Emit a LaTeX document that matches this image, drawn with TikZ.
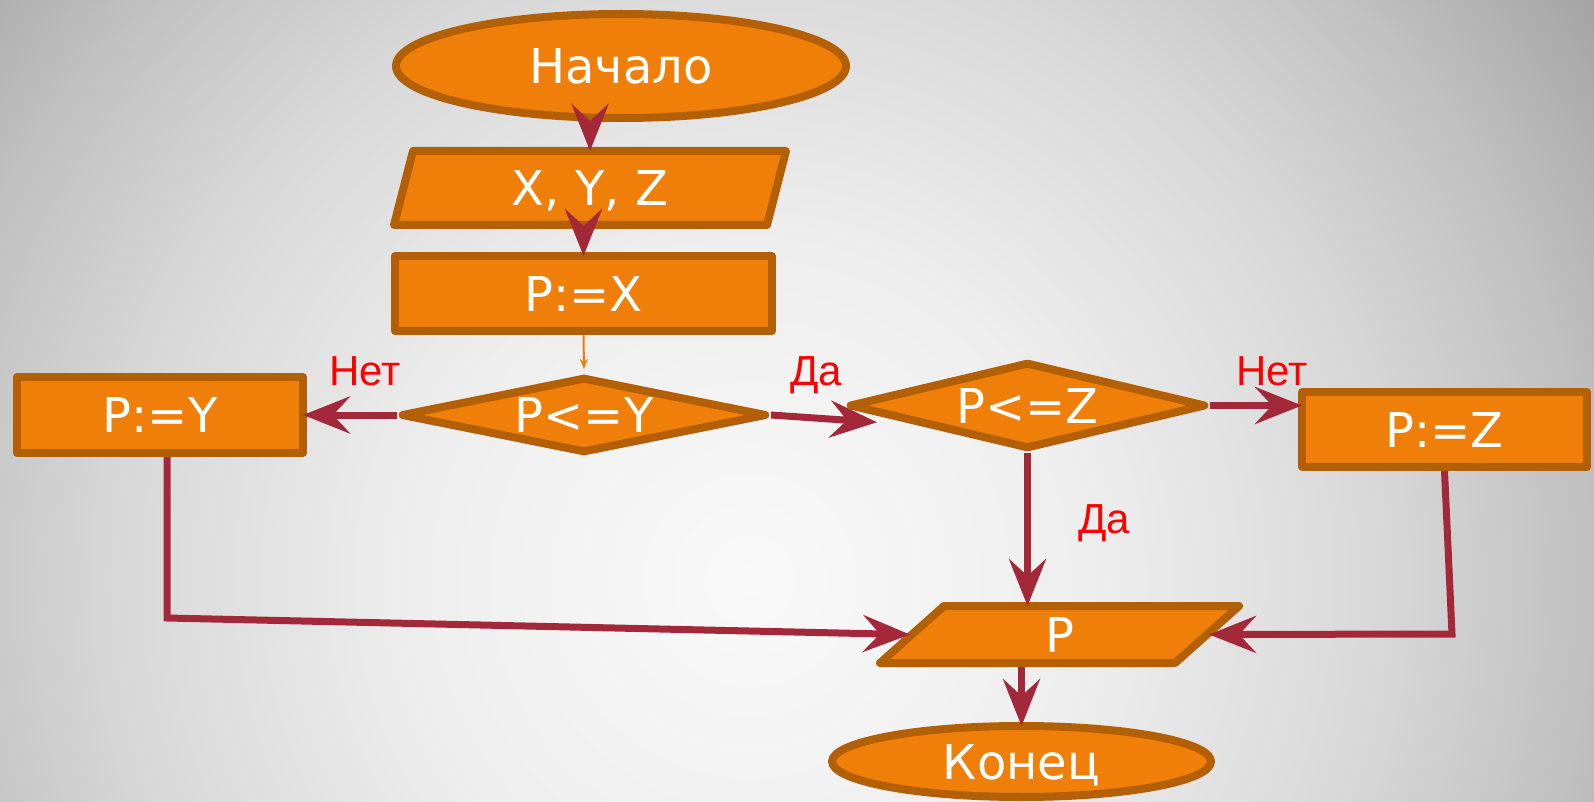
\documentclass[tikz,border=0pt]{standalone}
\usepackage{fontspec}
\setmainfont{DejaVu Sans}
\newfontfamily\lblfont{Liberation Sans}
\usetikzlibrary{shapes.geometric,arrows.meta,calc}
\definecolor{fillor}{RGB}{240,127,9}
\definecolor{strk}{RGB}{178,95,6}
\definecolor{arr}{RGB}{162,40,58}
\definecolor{lblred}{RGB}{255,0,0}
\definecolor{bga}{RGB}{249,249,249}
\definecolor{bgb}{RGB}{238,238,238}
\definecolor{bgc}{RGB}{216,216,216}
\definecolor{bgd}{RGB}{192,192,192}
\definecolor{bge}{RGB}{160,160,160}
\pgfdeclareradialshading{bgshade}{\pgfpoint{0bp}{0bp}}{color(0bp)=(bga); color(8bp)=(bgb); color(15bp)=(bgc); color(20bp)=(bgd); color(25bp)=(bge); color(50bp)=(bge)}
\begin{document}
\begin{tikzpicture}[x=1pt,y=-1pt,
  blk/.style={draw=strk, fill=fillor, line width=8pt, line join=round, text=white,
    font=\fontsize{48}{58}\selectfont, inner sep=0pt, text height=35pt, text depth=0pt},
  term/.style={blk, ellipse},
  proc/.style={blk, rectangle},
  io/.style={blk, trapezium, trapezium stretches body=true},
  dec/.style={blk, diamond},
  conn/.style={draw=arr, line width=7pt, shorten >=-4pt,
    -{Stealth[length=47pt,width=37pt,inset=17pt]}},
  thin/.style={draw=fillor, line width=2pt, -{Stealth[length=10pt,width=8pt]}},
  lbl/.style={text=lblred, font=\lblfont\fontsize{42}{50}\selectfont, anchor=base}
]
\useasboundingbox (0,0) rectangle (1594,802);
\begin{scope}
  \clip (0,0) rectangle (1594,802);
  \shade[shading=bgshade] (750,580) circle (1050);
\end{scope}

\node[term, minimum width=450pt, minimum height=104pt] (start) at (621,66) {Начало};
\node[io, trapezium left angle=61.5, trapezium right angle=118.5, minimum width=392pt, minimum height=74pt] (xyz) at (590,188) {X, Y, Z};
\node[proc, minimum width=377pt, minimum height=75pt] (px) at (583.5,293.5) {P:=X};
\node[dec, aspect=4.5, minimum width=366pt, minimum height=76pt] (cy) at (584,415) {P<=Y};
\node[proc, minimum width=286pt, minimum height=76pt] (py) at (160,415) {P:=Y};
\node[dec, aspect=4, minimum width=357pt, minimum height=87pt] (cz) at (1027.5,405.5) {P<=Z};
\node[proc, minimum width=285pt, minimum height=75pt] (pz) at (1444.5,429.5) {P:=Z};
\node[io, trapezium left angle=28.7, trapezium right angle=151.3, minimum width=359pt, minimum height=57pt] (p) at (1059.5,634.5) {P};
\node[term, minimum width=379pt, minimum height=71pt] (end) at (1021.5,761.5) {Конец};

\node[lbl] (n1) at (365,385) {Нет};
\node[lbl] (d1) at (816,385) {Да};
\node[lbl] (n2) at (1272,385) {Нет};
\node[lbl] (d2) at (1104,533) {Да};

\coordinate (czin) at (873,422);
\coordinate (k1) at (167,618);
\coordinate (k2) at (1452,634);

\draw[conn] (start.south -| xyz.north) -- (xyz.north);
\draw[conn] (xyz.south -| px.north) -- (px.north);
\draw[thin] (px.south) -- ([yshift=4pt]cy.north);
\draw[conn] (cy.west) -- (py.east);
\draw[conn] (cy.east) -- (czin);
\draw[conn] (cz.east) -- (cz.east -| pz.west);
\draw[conn] (cz.south) -- (cz.south |- p.north);
\draw[conn] (p.south -| end.north) -- (end.north);
\draw[conn] (py.south -| k1) -- (k1) -- (p.west);
\draw[conn] (pz.south) -- (k2) -- (p.east);
\end{tikzpicture}
\end{document}
